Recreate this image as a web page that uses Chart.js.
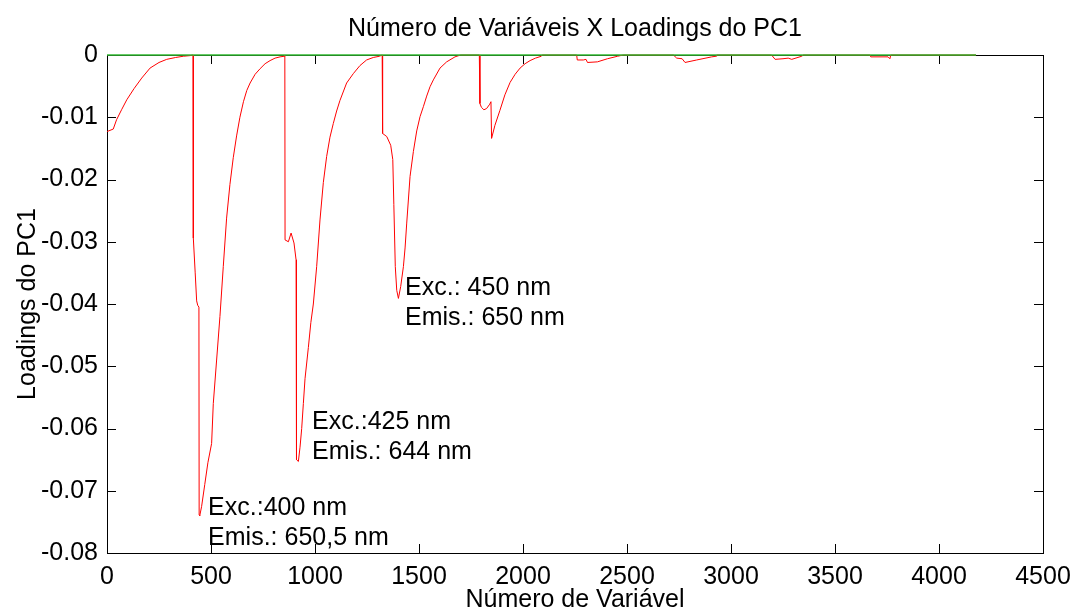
<!DOCTYPE html>
<html>
<head>
<meta charset="utf-8">
<script src="https://cdn.jsdelivr.net/npm/chart.js@4.4.1/dist/chart.umd.min.js"></script>
<style>
  html, body { margin: 0; background: #fff; }
  canvas { display: block; }
</style>
</head>
<body>
<canvas id="chart-loadings" width="1075" height="612"></canvas>
<script>
/*  ===================== DADOS ===================== */
// número da variável (eixo X)
const variaveis = [
  0, 30, 46, 70, 95, 130, 167, 207, 250, 287, 330, 367, 400, 414,
  415, 424, 431, 436, 442, 443, 446, 455, 470, 485, 503, 511, 527, 543, 559,
  575, 591, 607, 623, 639, 656, 672, 688, 712, 736, 760, 784, 808, 832, 852, 855,
  856, 872, 885, 899, 909, 911, 920, 928, 936, 944, 952, 968, 980, 992, 1008,
  1024, 1040, 1056, 1072, 1088, 1104, 1120, 1152, 1184, 1216, 1248, 1280, 1310, 1323,
  1325, 1345, 1364, 1374, 1379, 1386, 1393, 1401, 1412, 1425, 1433, 1441, 1457, 1473,
  1489, 1505, 1521, 1537, 1553, 1569, 1601, 1633, 1673, 1700, 1790,
  1793, 1800, 1812, 1825, 1840, 1846, 1849, 1865, 1889, 1913, 1938, 1962, 1986,
  2010, 2034, 2060, 2088, 2092, 2258,
  2261, 2290, 2303, 2310, 2358, 2406, 2455, 2482, 2723,
  2739, 2765, 2779, 2835, 2907, 2928, 2931, 3195,
  3212, 3250, 3275, 3292, 3340, 3348, 3668,
  3672, 3755, 3764, 3768, 4178,
];
// loadings do PC1 (curva vermelha)
const loadingsPC1 = [
  -0.0123, -0.0119, -0.0104, -0.0088, -0.0072, -0.0054, -0.0037, -0.0021, -0.0012, -0.0007, -0.0004, -0.0002, -0.0001, 0,
  -0.0294, -0.035, -0.0395, -0.0402, -0.0405, -0.0739, -0.074, -0.0725, -0.069, -0.0655, -0.0624, -0.056, -0.049, -0.042, -0.034,
  -0.0262, -0.0208, -0.0165, -0.013, -0.01, -0.0075, -0.0057, -0.0045, -0.0031, -0.0022, -0.0014, -0.0009, -0.0005, -0.0003, -0.0002, 0,
  -0.0297, -0.03, -0.0286, -0.0302, -0.0329, -0.065, -0.0653, -0.063, -0.06, -0.056, -0.052, -0.047, -0.043, -0.04, -0.034,
  -0.0265, -0.0205, -0.0163, -0.0132, -0.011, -0.009, -0.0073, -0.0045, -0.003, -0.0017, -0.0008, -0.0004, -0.0002, 0,
  -0.0126, -0.0131, -0.0145, -0.0168, -0.0240, -0.0340, -0.0378, -0.0391, -0.0372, -0.034, -0.031, -0.027, -0.0195, -0.0155,
  -0.0122, -0.0099, -0.0083, -0.0066, -0.0051, -0.004, -0.0021, -0.0011, -0.0003, 0, 0,
  -0.0078, -0.0084, -0.0088, -0.0086, -0.0079, -0.0075, -0.0134, -0.0113, -0.0089, -0.0064, -0.0044, -0.0031, -0.0021,
  -0.0014, -0.0009, -0.0005, -0.0002, 0, 0,
  -0.0008, -0.0008, -0.0007, -0.0012, -0.0011, -0.0006, -0.0002, 0, 0,
  -0.0005, -0.0006, -0.0012, -0.0008, -0.0003, -0.0002, 0, 0,
  -0.0007, -0.0006, -0.0005, -0.0007, -0.0002, 0, 0,
  -0.0003, -0.0003, -0.0006, 0, 0,
];
// linha de referência em zero (verde)
const zeroX = [0, 4178];
const zeroY = [0, 0];

// marcas dos eixos
const xTicks = [0, 500, 1000, 1500, 2000, 2500, 3000, 3500, 4000, 4500];
const yTicks = [0, -0.01, -0.02, -0.03, -0.04, -0.05, -0.06, -0.07, -0.08];

// textos
const titulo = "Número de Variáveis X Loadings do PC1";
const tituloX = "Número de Variável";
const tituloY = "Loadings do PC1";
const rotulos = [
  ["Exc.:400 nm", "Emis.: 650,5 nm"],
  ["Exc.:425 nm", "Emis.: 644 nm"],
  ["Exc.: 450 nm", "Emis.: 650 nm"],
];
/*  ================================================= */

const FONTE = '"Liberation Sans", Arial, Helvetica, sans-serif';
const TAM = 25;
Chart.defaults.font.family = FONTE;
Chart.defaults.color = "#000";

const canvas = document.getElementById("chart-loadings");
const ctx = canvas.getContext("2d");

const pontos = (xs, ys) => xs.map((x, i) => ({ x: x, y: ys[i] }));

// posição (em unidades dos eixos) do canto esquerdo de cada rótulo
const ancoras = [
  { x: 486, y: -0.0728 },
  { x: 986, y: -0.0589 },
  { x: 1433, y: -0.0374 },
];

new Chart(ctx, {
  type: "line",
  data: {
    datasets: [
      {
        label: "zero",
        data: pontos(zeroX, zeroY),
        borderColor: "#33bb33",
        borderWidth: 1.3,
        pointRadius: 0,
        clip: 3,
      },
      {
        label: "PC1",
        data: pontos(variaveis, loadingsPC1),
        borderColor: "#ff0000",
        borderWidth: 1,
        pointRadius: 0,
        tension: 0,
        clip: 3,
      },
    ],
  },
  options: {
    responsive: false,
    animation: false,
    parsing: false,
    layout: { padding: { top: 55, right: 32, left: 0, bottom: 0 } },
    plugins: {
      legend: { display: false },
      tooltip: { enabled: false },
    },
    scales: {
      x: {
        type: "linear",
        min: 0,
        max: 4500,
        grid: { display: false },
        border: { display: false },
        afterBuildTicks: (s) => { s.ticks = xTicks.map((v) => ({ value: v })); },
        afterFit: (s) => { s.height = 59; },
        ticks: {
          font: { size: TAM },
          padding: 1,
          maxRotation: 0,
          autoSkip: false,
          callback: (v) => String(v),
        },
        title: {
          display: true,
          text: tituloX,
          font: { size: TAM },
          padding: { top: 0, bottom: -3 },
        },
      },
      y: {
        min: -0.08,
        max: 0,
        grid: { display: false },
        border: { display: false },
        afterBuildTicks: (s) => { s.ticks = yTicks.map((v) => ({ value: v })); },
        afterFit: (s) => { s.width = 107; },
        ticks: {
          font: { size: TAM },
          padding: 1,
          callback: (v) => (v === 0 ? "0" : v.toFixed(2)),
        },
        title: {
          display: true,
          text: tituloY,
          font: { size: TAM },
          padding: { top: 13, bottom: 0 },
        },
      },
    },
  },
  plugins: [
    {
      // moldura e marcas internas nos quatro lados
      id: "moldura",
      beforeDatasetsDraw(chart) {
        const { ctx, chartArea: { left, right, top, bottom }, scales: { x, y } } = chart;
        ctx.save();
        ctx.strokeStyle = "#000";
        ctx.lineWidth = 1;
        ctx.strokeRect(left + 0.5, top + 0.5, right - left, bottom - top);
        ctx.beginPath();
        xTicks.forEach((v) => {
          const px = Math.round(x.getPixelForValue(v)) + 0.5;
          ctx.moveTo(px, bottom);
          ctx.lineTo(px, bottom - 9);
          ctx.moveTo(px, top);
          ctx.lineTo(px, top + 9);
        });
        yTicks.forEach((v) => {
          const py = Math.round(y.getPixelForValue(v)) + 0.5;
          ctx.moveTo(left, py);
          ctx.lineTo(left + 9, py);
          ctx.moveTo(right, py);
          ctx.lineTo(right - 9, py);
        });
        ctx.stroke();
        ctx.restore();
      },
    },
    {
      // título e rótulos dos picos
      id: "textos",
      afterDraw(chart) {
        const { ctx, chartArea: { left, right }, scales: { x, y } } = chart;
        ctx.save();
        ctx.fillStyle = "#000";
        ctx.font = TAM + "px " + FONTE;
        ctx.textBaseline = "middle";
        ctx.textAlign = "center";
        ctx.fillText(titulo, (left + right) / 2, 29);
        ctx.textAlign = "left";
        rotulos.forEach((linhas, i) => {
          const px = x.getPixelForValue(ancoras[i].x);
          const py = y.getPixelForValue(ancoras[i].y);
          linhas.forEach((t, j) => ctx.fillText(t, px, py + j * 30));
        });
        ctx.restore();
      },
    },
  ],
});
</script>
</body>
</html>
